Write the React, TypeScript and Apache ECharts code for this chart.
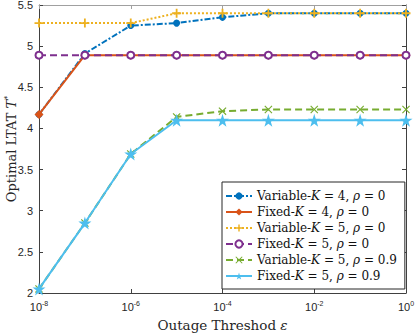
import React, { useEffect, useRef } from "react";
import * as echarts from "echarts";

const eps = [1e-8, 1e-7, 1e-6, 1e-5, 1e-4, 1e-3, 1e-2, 1e-1, 1];
const varK4 = [4.17, 4.91, 5.25, 5.28, 5.35, 5.4, 5.4, 5.4, 5.4];
const fixK4 = [4.17, 4.89, 4.89, 4.89, 4.89, 4.89, 4.89, 4.89, 4.89];
const varK5 = [5.28, 5.28, 5.28, 5.4, 5.4, 5.4, 5.4, 5.4, 5.4];
const fixK5 = [4.89, 4.89, 4.89, 4.89, 4.89, 4.89, 4.89, 4.89, 4.89];
const varK5r = [2.05, 2.85, 3.69, 4.14, 4.21, 4.23, 4.23, 4.23, 4.23];
const fixK5r = [2.05, 2.85, 3.69, 4.1, 4.1, 4.1, 4.1, 4.1, 4.1];

const names = ["vk4", "fk4", "vk5", "fk5", "vk5r", "fk5r"];
const legendText: Record<string, string> = {
  vk4: "{rm|Variable-}{it|K}{rm| = 4, }{it|ρ}{rm| = 0}",
  fk4: "{rm|Fixed-}{it|K}{rm| = 4, }{it|ρ}{rm| = 0}",
  vk5: "{rm|Variable-}{it|K}{rm| = 5, }{it|ρ}{rm| = 0}",
  fk5: "{rm|Fixed-}{it|K}{rm| = 5, }{it|ρ}{rm| = 0}",
  vk5r: "{rm|Variable-}{it|K}{rm| = 5, }{it|ρ}{rm| = 0.9}",
  fk5r: "{rm|Fixed-}{it|K}{rm| = 5, }{it|ρ}{rm| = 0.9}",
};

const STAR = "path://M50,0 L61,35 L98,35 L68,57 L79,91 L50,70 L21,91 L32,57 L2,35 L39,35 Z";
const PLUS = "path://M4,0H6V4H10V6H6V10H4V6H0V4H4Z";
const CROSS = "path://M1,0L5,4L9,0L10,1L6,5L10,9L9,10L5,6L1,10L0,9L4,5L0,1Z";

const SERIF = "DejaVu Serif";
const SANS = "Liberation Sans";

export default function App() {
  const ref = useRef<HTMLDivElement>(null);
  useEffect(() => {
    document.body.style.margin = "0";
    const chart = echarts.init(ref.current!, undefined, { renderer: "svg" });
    const mk = (vals: number[]) => eps.map((e, i) => [e, vals[i]]);
    const axisDark = "#404040";
    const series: any[] = [
      {
        name: "vk4", data: mk(varK4), color: "#0072BD",
        lineStyle: { width: 2, type: [6, 2, 2, 2] },
        symbol: "circle", symbolSize: 7,
      },
      {
        name: "fk4", data: mk(fixK4), color: "#D95319",
        lineStyle: { width: 2, type: "solid" },
        symbol: "diamond", symbolSize: 9,
      },
      {
        name: "vk5", data: mk(varK5), color: "#EDB120",
        lineStyle: { width: 2, type: [2, 2] },
        symbol: PLUS, symbolSize: 9,
      },
      {
        name: "fk5", data: mk(fixK5), color: "#7E2F8E",
        lineStyle: { width: 2, type: [7, 4] },
        symbol: "emptyCircle", symbolSize: 7,
        itemStyle: { borderWidth: 2 },
      },
      {
        name: "vk5r", data: mk(varK5r), color: "#77AC30",
        lineStyle: { width: 2, type: [7, 4] },
        symbol: CROSS, symbolSize: 8,
      },
      {
        name: "fk5r", data: mk(fixK5r), color: "#4DBEEE",
        lineStyle: { width: 2, type: "solid" },
        symbol: STAR, symbolSize: 13,
      },
    ].map((s, i) => ({ type: "line", showSymbol: true, z: 2 + i, ...s }));

    const xLabelRich = {
      b: { fontFamily: SANS, fontSize: 11, color: "#262626" },
      s: { fontFamily: SANS, fontSize: 7, color: "#262626", padding: [0, 0, 7, 0] },
    };

    const serifRich = (size: number, color: string) => ({
      rm: { fontFamily: SERIF, fontSize: size, fontWeight: "normal", fontStyle: "normal", color },
      it: { fontFamily: SERIF, fontSize: size, fontStyle: "italic", fontWeight: "normal", color },
      sup: { fontFamily: SERIF, fontSize: Math.round(size * 0.65), color, padding: [0, 0, 8, 0] },
    });

    chart.setOption({
      animation: false,
      backgroundColor: "#ffffff",
      textStyle: { fontFamily: SERIF, fontWeight: "normal" },
      grid: {
        left: 39, right: 9, top: 5, bottom: 40,
        containLabel: false, outerBoundsMode: "none",
      },
      legend: {
        orient: "vertical",
        left: 222,
        top: 182,
        data: names,
        backgroundColor: "#ffffff",
        borderColor: "#262626",
        borderWidth: 1,
        borderRadius: 0,
        padding: [8, 8, 7, 3],
        itemGap: 4,
        itemWidth: 26,
        itemHeight: 9,
        formatter: (n: string) => legendText[n],
        textStyle: {
          fontFamily: SERIF,
          fontSize: 12,
          fontWeight: "normal",
          color: "#111",
          rich: serifRich(12, "#111"),
        },
      },
      xAxis: [
        {
          type: "log",
          logBase: 10,
          min: 1e-8,
          max: 1,
          interval: 2,
          name: "{rm|Outage Threshod }{it|ε}",
          nameLocation: "middle",
          nameGap: 25,
          nameMoveOverlap: false,
          nameTextStyle: { fontFamily: SERIF, fontSize: 13.5, rich: serifRich(13.5, "#262626") },
          axisLine: { lineStyle: { color: axisDark, width: 1 } },
          axisTick: { inside: true, length: 4, lineStyle: { color: axisDark } },
          splitLine: { show: false },
          axisLabel: {
            margin: 7,
            fontFamily: SANS,
            formatter: (v: number) => {
              const e = Math.round(Math.log10(v));
              return `{b|10}{s|${e}}`;
            },
            rich: xLabelRich,
          },
        },
        {
          type: "log",
          logBase: 10,
          min: 1e-8,
          max: 1,
          interval: 2,
          position: "top",
          axisLine: { lineStyle: { color: "#a0a0a0", width: 1 } },
          axisTick: { inside: true, length: 4, lineStyle: { color: "#a0a0a0" } },
          axisLabel: { show: false },
          splitLine: { show: false },
        },
      ],
      yAxis: [
        {
          type: "value",
          min: 2,
          max: 5.5,
          interval: 0.5,
          name: "{rm|Optimal LTAT }{it|T}{sup|*}",
          nameLocation: "middle",
          nameGap: 20,
          nameMoveOverlap: false,
          nameTextStyle: { fontFamily: SERIF, fontSize: 13, rich: serifRich(13, "#262626") },
          axisLine: { show: true, lineStyle: { color: axisDark, width: 1 } },
          axisTick: { show: true, inside: true, length: 4, lineStyle: { color: axisDark } },
          splitLine: { show: false },
          axisLabel: {
            margin: 6,
            fontFamily: SANS,
            fontSize: 11,
            color: "#262626",
            formatter: (v: number) => String(v),
          },
        },
        {
          type: "value",
          min: 2,
          max: 5.5,
          interval: 0.5,
          position: "right",
          axisLine: { show: true, lineStyle: { color: axisDark, width: 1 } },
          axisTick: { show: true, inside: true, length: 4, lineStyle: { color: axisDark } },
          axisLabel: { show: false },
          splitLine: { show: false },
        },
      ],
      series,
    });
    return () => chart.dispose();
  }, []);
  return (
    <div
      ref={ref}
      style={{ position: "absolute", left: 0, top: 0, width: 415, height: 333 }}
    />
  );
}
